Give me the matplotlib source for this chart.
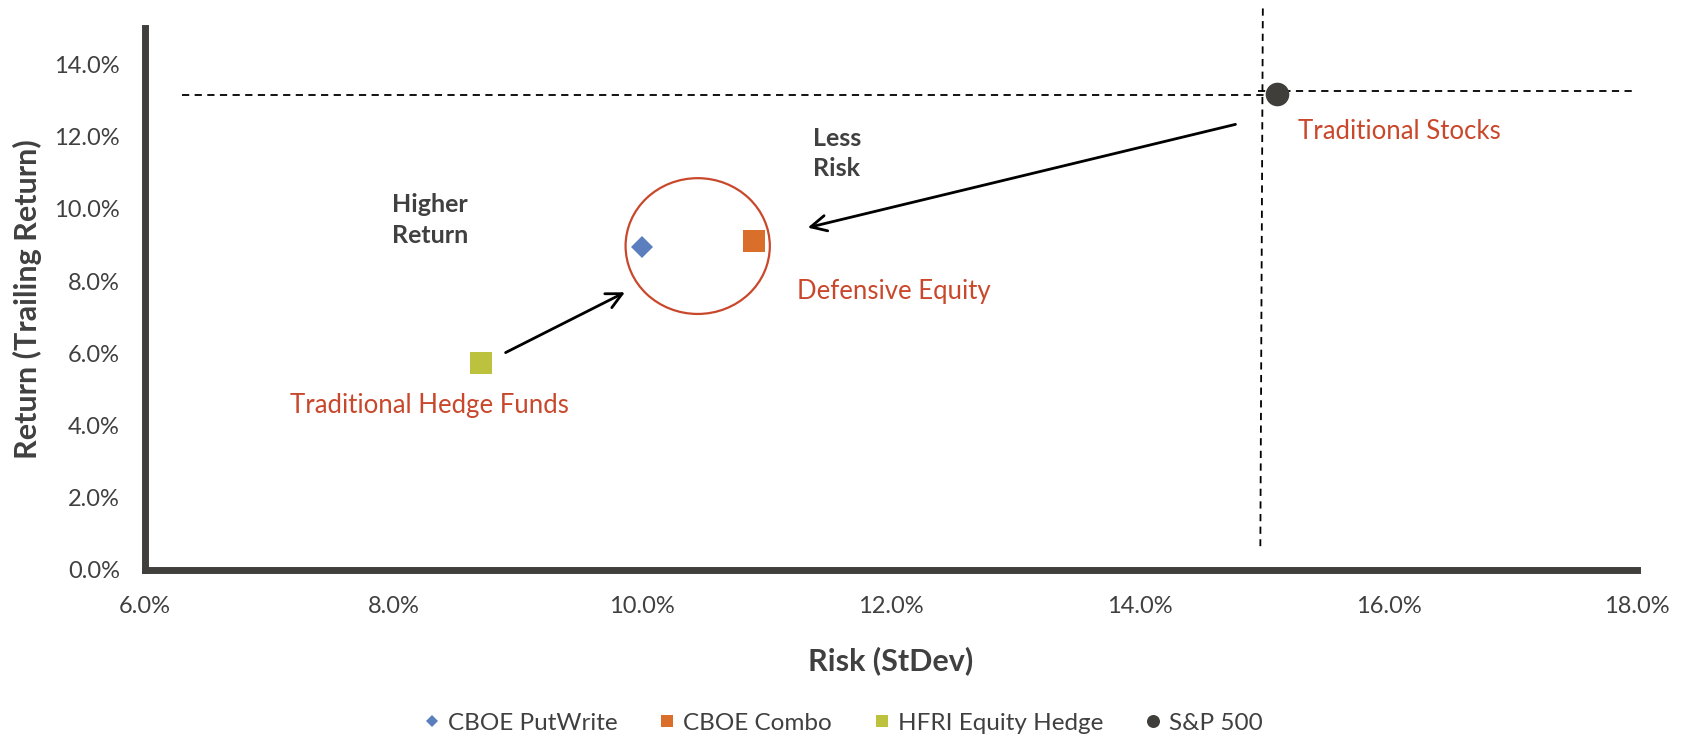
import matplotlib
matplotlib.use('Agg')
import matplotlib.pyplot as plt
from matplotlib.patches import Ellipse

plt.rcParams['font.family'] = ['Lato', 'DejaVu Sans']

# risk (stdev, %) and trailing return (%) per series
names = ['CBOE PutWrite', 'CBOE Combo', 'HFRI Equity Hedge', 'S&P 500']
risk = [10.0, 10.9, 8.7, 15.1]
ret = [8.94, 9.12, 5.72, 13.17]
markers = ['D', 's', 's', 'o']
sizes = [11.5, 16, 16, 17]
colors = ['#5B7EBE', '#D96F2A', '#BCC23E', '#403E3B']

x_ticks = [6, 8, 10, 12, 14, 16, 18]
y_ticks = [0, 2, 4, 6, 8, 10, 12, 14]

axis_color = '#403F3B'
text_color = '#404040'
red = '#C9482C'

fig = plt.figure(figsize=(16.86, 7.37), dpi=100)
ax = fig.add_axes([0.086, 0.2266, 0.885, 0.735])

for n, x, y, m, s, c in zip(names, risk, ret, markers, sizes, colors):
    ax.plot([x], [y], linestyle='none', marker=m, markersize=s, color=c,
            markeredgewidth=0, label=n, zorder=5)

ax.set_xlim(6, 18)
ax.set_ylim(0, 15)
ax.set_xticks(x_ticks)
ax.set_yticks(y_ticks)
ax.set_xticklabels([f'{v:.1f}%' for v in x_ticks])
ax.set_yticklabels([f'{v:.1f}%' for v in y_ticks])
ax.tick_params(length=0, labelsize=17, colors=text_color)
ax.tick_params(axis='x', pad=19)
ax.tick_params(axis='y', pad=18)

for side in ['top', 'right']:
    ax.spines[side].set_visible(False)
for side in ['left', 'bottom']:
    ax.spines[side].set_color(axis_color)
    ax.spines[side].set_linewidth(5)
    ax.spines[side].set_capstyle('projecting')

ax.set_xlabel('Risk (StDev)', fontsize=22, fontweight='bold', color=text_color, labelpad=21)
ax.set_ylabel('Return (Trailing Return)', fontsize=22, fontweight='bold', color=text_color)
ax.yaxis.set_label_coords(-0.069, 0.5)

# dashed reference lines through S&P 500
ax.plot([6.3, 15.0], [13.14, 13.14], color='black', lw=1.3, ls=(0, (4, 3)), clip_on=False)
ax.plot([14.95, 17.96], [13.25, 13.25], color='black', lw=1.3, ls=(0, (4, 3)), clip_on=False)
ax.plot([14.99, 14.97], [15.55, 0.66], color='black', lw=1.3, ls=(0, (4, 3)), clip_on=False)

# defensive equity circle
ax.add_patch(Ellipse((10.445, 8.97), 1.16, 3.76, fill=False, edgecolor=red, lw=1.6, zorder=4))

arrow = dict(arrowstyle='->', lw=2, color='black', mutation_scale=28, shrinkA=0, shrinkB=0)
ax.annotate('', xy=(9.86, 7.69), xytext=(8.90, 6.02), arrowprops=arrow)
ax.annotate('', xy=(11.33, 9.48), xytext=(14.77, 12.34), arrowprops=arrow)

ax.text(7.99, 9.69, 'Higher\nReturn', fontsize=18, fontweight='bold', color=text_color,
        va='center', ha='left', linespacing=1.4)
ax.text(11.37, 11.53, 'Less\nRisk', fontsize=18, fontweight='bold', color=text_color,
        va='center', ha='left', linespacing=1.4)
ax.text(15.27, 12.13, 'Traditional Stocks', fontsize=18.5, color=red, va='center', ha='left')
ax.text(11.24, 7.72, 'Defensive Equity', fontsize=18.5, color=red, va='center', ha='left')
ax.text(7.17, 4.56, 'Traditional Hedge Funds', fontsize=18.5, color=red, va='center', ha='left')

fig.legend(loc='center', bbox_to_anchor=(0.5, 0.019), ncol=4, frameon=False,
           fontsize=17.5, markerscale=0.55, handlelength=0.7, handletextpad=0.3,
           columnspacing=1.7, labelcolor=text_color)

fig.savefig('out.png', dpi=100)
